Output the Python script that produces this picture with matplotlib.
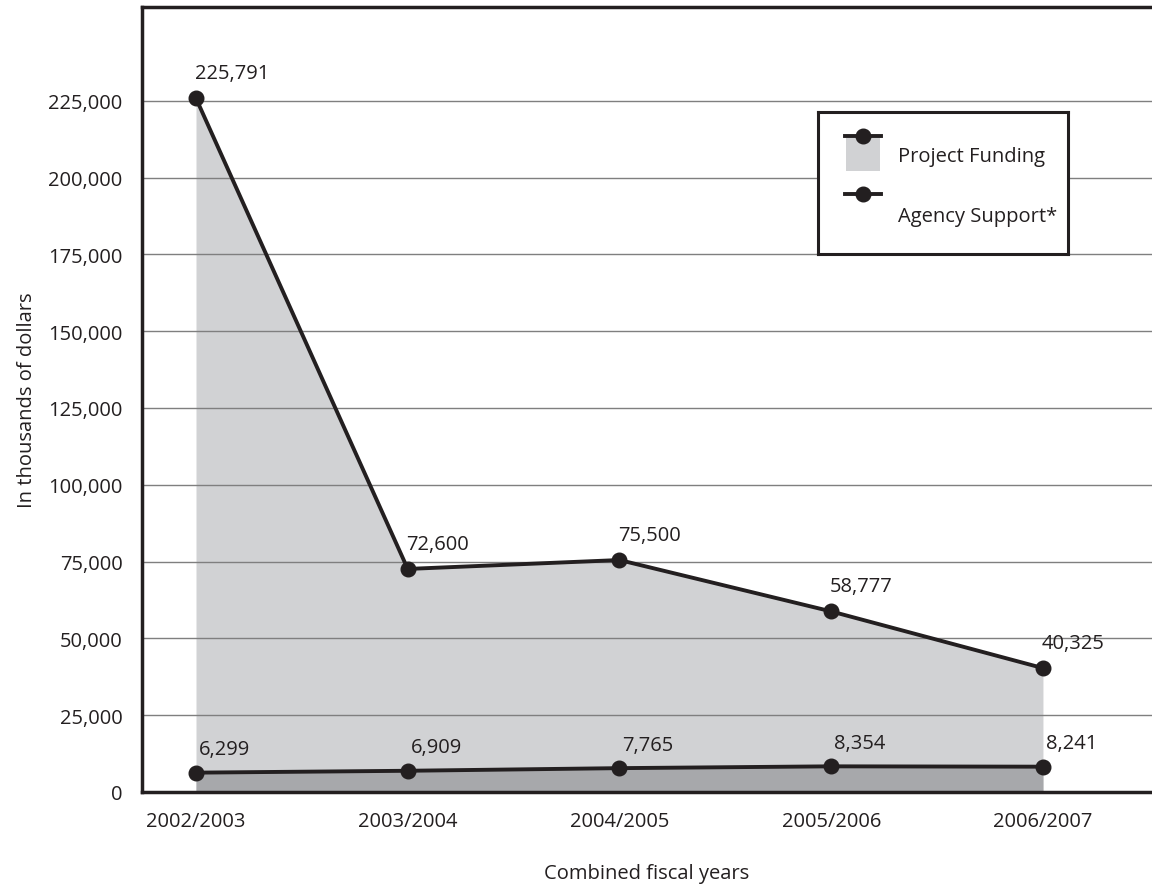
import matplotlib
matplotlib.use("Agg")
import matplotlib.pyplot as plt
from matplotlib.ticker import FuncFormatter

plt.rcParams['font.family'] = ['Open Sans', 'DejaVu Sans']

# fiscal years and funding, in thousands of dollars
years = ["2002/2003", "2003/2004", "2004/2005", "2005/2006", "2006/2007"]
project_funding = [225791, 72600, 75500, 58777, 40325]
agency_support = [6299, 6909, 7765, 8354, 8241]
y_ticks = [0, 25000, 50000, 75000, 100000, 125000, 150000, 175000, 200000, 225000]

ink = "#231f20"
light = "#d1d2d4"
dark = "#a7a8ab"
fs = 14.5

fig = plt.figure(figsize=(11.52, 8.87), dpi=100)
ax = fig.add_axes([142 / 1152, 1 - 793 / 887, 1 - 142 / 1152, (793 - 8) / 887])

x = list(range(len(years)))
ax.fill_between(x, 0, project_funding, color=light, lw=0, zorder=1)
ax.fill_between(x, 0, agency_support, color=dark, lw=0, zorder=1)
ax.yaxis.grid(True, color="#7f7f7f", lw=1.0, zorder=2)
ax.set_axisbelow(False)
ax.plot(x, project_funding, color=ink, lw=2.8, marker="o", ms=10.5, zorder=4)
ax.plot(x, agency_support, color=ink, lw=2.8, marker="o", ms=10.5, zorder=4)

for xi, v in zip(x, project_funding):
    ax.annotate(f"{v:,}", (xi, v), xytext=(-1, 18), textcoords="offset points",
                ha="left", va="center", fontsize=fs, color=ink, zorder=5)
for xi, v in zip(x, agency_support):
    ax.annotate(f"{v:,}", (xi, v), xytext=(2, 17), textcoords="offset points",
                ha="left", va="center", fontsize=fs, color=ink, zorder=5)

ax.set_xlim(-0.255, 4.515)
ax.set_ylim(0, 255500)
ax.set_yticks(y_ticks)
ax.yaxis.set_major_formatter(FuncFormatter(lambda v, p: f"{int(v):,}"))
ax.set_xticks(x)
ax.set_xticklabels(years)
ax.tick_params(axis="both", length=0, labelsize=fs, colors=ink)
ax.tick_params(axis="y", pad=14)
ax.tick_params(axis="x", pad=14)

for side in ("left", "bottom", "top"):
    ax.spines[side].set_color(ink)
    ax.spines[side].set_linewidth(2.5)
    ax.spines[side].set_zorder(6)
ax.spines["right"].set_visible(False)

ax.set_ylabel("In thousands of dollars", fontsize=fs, color=ink, labelpad=8)
ax.set_xlabel("Combined fiscal years", fontsize=fs, color=ink, labelpad=23)

# legend box
lg = fig.add_axes([818 / 1152, 1 - 255 / 887, 250 / 1152, 142 / 887])
lg.set_xlim(0, 250)
lg.set_ylim(142, 0)
lg.set_xticks([])
lg.set_yticks([])
lg.patch.set_facecolor("white")
for s in lg.spines.values():
    s.set_color(ink)
    s.set_linewidth(2.2)
lg.add_patch(plt.Rectangle((28, 26), 34, 33, color=light, lw=0))
lg.plot([27, 63], [24, 24], color=ink, lw=2.8)
lg.plot([45], [24], color=ink, marker="o", ms=10.5)
lg.plot([27, 63], [82, 82], color=ink, lw=2.8)
lg.plot([45], [82], color=ink, marker="o", ms=10.5)
lg.text(80, 44, "Project Funding", fontsize=fs, color=ink, va="center")
lg.text(80, 104, "Agency Support*", fontsize=fs, color=ink, va="center")

fig.savefig("out.png", dpi=100)
